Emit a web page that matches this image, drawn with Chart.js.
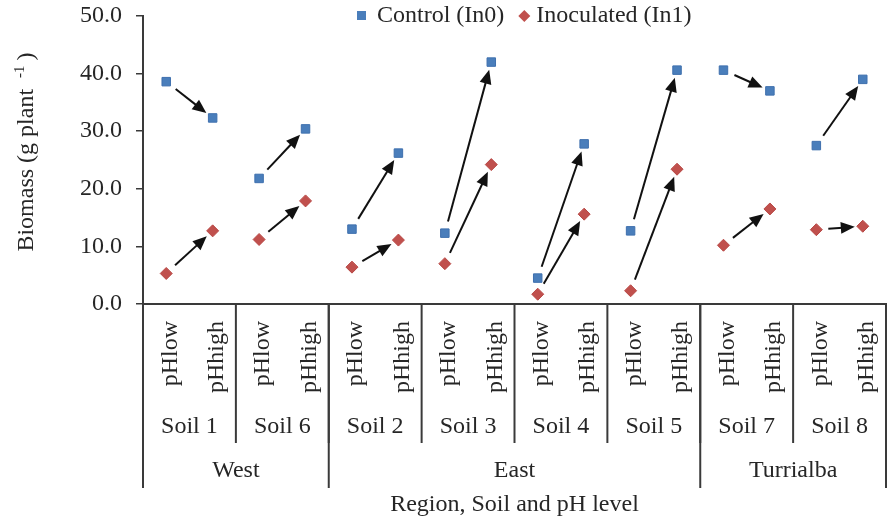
<!DOCTYPE html>
<html>
<head>
<meta charset="utf-8">
<script src="https://cdn.jsdelivr.net/npm/chart.js@4.4.0/dist/chart.umd.min.js"></script>
<style>
  body { margin: 0; background: #fff; }
  canvas { display: block; }
</style>
</head>
<body>
<canvas id="chart" width="887" height="521"></canvas>
<script>
// data
const soils = ['Soil 1', 'Soil 6', 'Soil 2', 'Soil 3', 'Soil 4', 'Soil 5', 'Soil 7', 'Soil 8'];
const regions = ['West', 'East', 'Turrialba'];
const soilsPerRegion = [2, 4, 2];
const phLevels = ['pHlow', 'pHhigh'];
const yTicks = [0, 10, 20, 30, 40, 50];

// order: Soil1 low, Soil1 high, Soil6 low, Soil6 high, ...
const control    = [38.6, 32.3, 21.8, 30.4, 13.0, 26.2, 12.3, 42.0, 4.5, 27.8, 12.7, 40.6, 40.6, 37.0, 27.5, 39.0];
const inoculated = [5.3, 12.7, 11.2, 17.9, 6.4, 11.1, 7.0, 24.2, 1.7, 15.6, 2.3, 23.4, 10.2, 16.5, 12.9, 13.5];

const labels = [];
soils.forEach(s => phLevels.forEach(p => labels.push(s + ' ' + p)));

const FONT = '"Liberation Serif", "Times New Roman", serif';
const INK = '#262626';
const LINE = '#3a3a3a';

function vline(ctx, x, y0, y1) {
    ctx.beginPath();
    ctx.moveTo(x, y0);
    ctx.lineTo(x, y1);
    ctx.stroke();
}

// arrows from pHlow to pHhigh point of each soil
const arrows = {
    id: 'arrows',
    afterDatasetsDraw(chart) {
        const ctx = chart.ctx;
        ctx.save();
        ctx.strokeStyle = '#111';
        ctx.fillStyle = '#111';
        ctx.lineWidth = 2;
        chart.data.datasets.forEach((ds, di) => {
            const pts = chart.getDatasetMeta(di).data;
            for (let k = 0; k < soils.length; k++) {
                const p0 = pts[2 * k], p1 = pts[2 * k + 1];
                const dx = p1.x - p0.x, dy = p1.y - p0.y;
                const len = Math.hypot(dx, dy);
                const ux = dx / len, uy = dy / len;
                const sx = p0.x + ux * 12, sy = p0.y + uy * 12;
                const tx = p1.x - ux * 8, ty = p1.y - uy * 8;
                const head = 14, half = 6;
                const bx = tx - ux * head, by = ty - uy * head;
                ctx.beginPath();
                ctx.moveTo(sx, sy);
                ctx.lineTo(bx + ux * 2, by + uy * 2);
                ctx.stroke();
                ctx.beginPath();
                ctx.moveTo(tx, ty);
                ctx.lineTo(bx - uy * half, by + ux * half);
                ctx.lineTo(bx + uy * half, by - ux * half);
                ctx.closePath();
                ctx.fill();
            }
        });
        ctx.restore();
    }
};

// multi level category axis, titles and legend
const decorations = {
    id: 'decorations',
    afterDraw(chart) {
        const {ctx, chartArea: a, scales: {x}} = chart;
        const step = x.getPixelForValue(1) - x.getPixelForValue(0);
        const b = a.bottom;
        ctx.save();
        ctx.strokeStyle = LINE;
        ctx.lineWidth = 2;
        ctx.fillStyle = INK;
        ctx.font = '24px ' + FONT;

        // pH level labels, rotated
        labels.forEach((lab, i) => {
            ctx.save();
            ctx.translate(x.getPixelForValue(i) + 4, b + 17);
            ctx.rotate(-Math.PI / 2);
            ctx.textAlign = 'right';
            ctx.textBaseline = 'middle';
            ctx.fillText(phLevels[i % 2], 0, 0);
            ctx.restore();
        });

        // soils
        ctx.textAlign = 'center';
        ctx.textBaseline = 'middle';
        soils.forEach((s, k) => {
            const l = x.getPixelForValue(2 * k) - step / 2;
            ctx.fillText(s, l + step, b + 123);
            if (k > 0) vline(ctx, l, b, b + 139);
        });

        // regions
        let start = 0;
        vline(ctx, a.left, b, b + 184);
        regions.forEach((r, k) => {
            const l = x.getPixelForValue(start) - step / 2;
            const w = soilsPerRegion[k] * 2 * step;
            ctx.fillText(r, l + w / 2, b + 167);
            vline(ctx, l + w, b, b + 184);
            start += soilsPerRegion[k] * 2;
        });

        ctx.fillText('Region, Soil and pH level', (a.left + a.right) / 2, b + 201);

        // y title with superscript
        ctx.save();
        ctx.translate(27, 152);
        ctx.rotate(-Math.PI / 2);
        ctx.textAlign = 'left';
        ctx.textBaseline = 'middle';
        const main = 'Biomass (g plant ', sup = '-1', end = ')';
        ctx.font = '24px ' + FONT;
        const wMain = ctx.measureText(main).width, wEnd = ctx.measureText(end).width;
        ctx.font = '15px ' + FONT;
        const wSup = ctx.measureText(sup).width;
        const gap = 5;
        let px = -(wMain + wSup + wEnd + 2 * gap) / 2;
        ctx.font = '24px ' + FONT;
        ctx.fillText(main, px, 0);
        px += wMain + gap;
        ctx.font = '15px ' + FONT;
        ctx.fillText(sup, px, -7);
        px += wSup + gap;
        ctx.font = '24px ' + FONT;
        ctx.fillText(end, px, 0);
        ctx.restore();

        // legend
        const ds = chart.data.datasets;
        let lx = a.left + 214;
        const ly = a.top;
        ctx.textAlign = 'left';
        ctx.fillStyle = ds[0].backgroundColor;
        ctx.fillRect(lx, ly - 5, 9, 9);
        ctx.fillStyle = INK;
        ctx.fillText(ds[0].label, lx + 20, ly);
        lx += 20 + ctx.measureText(ds[0].label).width + 20;
        ctx.fillStyle = ds[1].backgroundColor;
        ctx.beginPath();
        ctx.moveTo(lx - 6, ly);
        ctx.lineTo(lx, ly - 6);
        ctx.lineTo(lx + 6, ly);
        ctx.lineTo(lx, ly + 6);
        ctx.closePath();
        ctx.fill();
        ctx.fillStyle = INK;
        ctx.fillText(ds[1].label, lx + 12, ly);

        ctx.restore();
    }
};

new Chart(document.getElementById('chart'), {
    type: 'line',
    data: {
        labels: labels,
        datasets: [{
            label: 'Control (In0)',
            data: control,
            showLine: false,
            pointStyle: 'rect',
            pointRadius: 6,
            backgroundColor: '#4A7EBB',
            borderColor: '#3F70AE',
            borderWidth: 1
        }, {
            label: 'Inoculated (In1)',
            data: inoculated,
            showLine: false,
            pointStyle: 'rectRot',
            pointRadius: 6,
            backgroundColor: '#C0504D',
            borderColor: '#B84845',
            borderWidth: 1
        }]
    },
    options: {
        responsive: false,
        animation: false,
        devicePixelRatio: 1,
        layout: { autoPadding: false, padding: { top: 16, right: 1, bottom: 0, left: 0 } },
        plugins: {
            legend: { display: false },
            tooltip: { enabled: false }
        },
        scales: {
            x: {
                type: 'category',
                offset: true,
                grid: { display: false },
                ticks: { display: false },
                border: { display: true, color: LINE, width: 2 },
                afterFit: s => {
                    s.height = 217;
                    s.paddingLeft = 0;
                    s.paddingRight = 0;
                }
            },
            y: {
                min: yTicks[0],
                max: yTicks[yTicks.length - 1],
                ticks: {
                    stepSize: 5,
                    padding: 14,
                    color: INK,
                    font: { family: FONT, size: 24 },
                    callback: v => yTicks.includes(v) ? v.toFixed(1) : ''
                },
                grid: { drawOnChartArea: false, drawTicks: true, tickLength: 7, color: LINE, lineWidth: 1.5 },
                border: { display: true, color: LINE, width: 2 },
                afterFit: s => {
                    s.width = 143;
                    s.paddingTop = 0;
                    s.paddingBottom = 0;
                }
            }
        }
    },
    plugins: [arrows, decorations]
});
</script>
</body>
</html>
